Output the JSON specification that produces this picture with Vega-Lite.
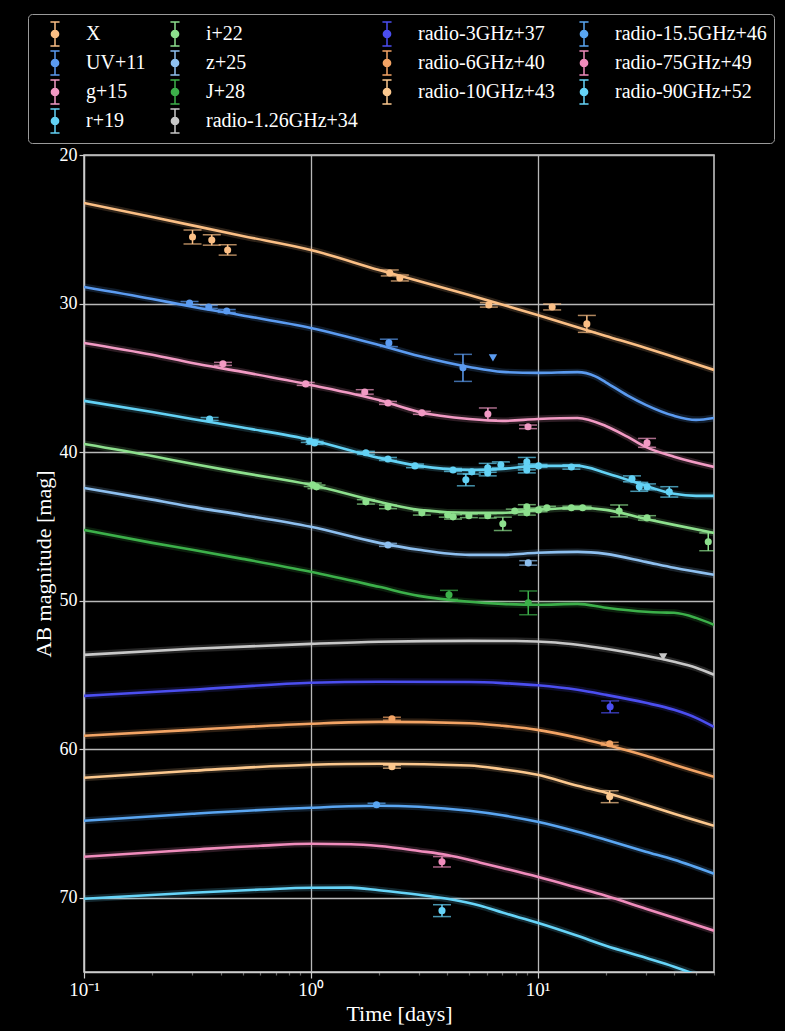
{
  "$schema": "https://vega.github.io/schema/vega-lite/v6.json",
  "width": 630,
  "height": 817,
  "autosize": {"type": "none"},
  "padding": {"left": 84, "top": 155, "right": 71, "bottom": 59},
  "background": "black",
  "config": {
    "font": "Liberation Serif",
    "view": {"stroke": "#cccccc", "strokeWidth": 1.5},
    "legend": {"labelFont": "Liberation Serif", "labelFontSize": 20, "labelColor": "white"},
    "axis": {
      "labelFont": "Liberation Serif", "titleFont": "Liberation Serif",
      "labelColor": "white", "titleColor": "white",
      "domainColor": "#cccccc", "tickColor": "#cccccc", "gridColor": "#b8b8b8",
      "gridWidth": 1.3, "domainWidth": 1.5, "tickWidth": 1.2,
      "titleFontWeight": "normal", "labelFontSize": 18, "titleFontSize": 22
    }
  },
  "datasets": {
    "curves": [
      {"s":"X","t":0.1,"m":23.23},{"s":"X","t":0.2,"m":24.17},{"s":"X","t":0.5,"m":25.45},{"s":"X","t":1,"m":26.39},{"s":"X","t":2,"m":27.74},{"s":"X","t":5,"m":29.42},{"s":"X","t":10,"m":30.77},{"s":"X","t":20,"m":32.18},{"s":"X","t":30,"m":32.99},{"s":"X","t":40,"m":33.6},{"s":"X","t":60,"m":34.47},
      {"s":"UV+11","t":0.1,"m":28.88},{"s":"UV+11","t":0.2,"m":29.69},{"s":"UV+11","t":0.3,"m":30.21},{"s":"UV+11","t":0.5,"m":30.8},{"s":"UV+11","t":1,"m":31.64},{"s":"UV+11","t":2,"m":32.79},{"s":"UV+11","t":3,"m":33.53},{"s":"UV+11","t":5,"m":34.27},{"s":"UV+11","t":7,"m":34.6},{"s":"UV+11","t":10,"m":34.67},{"s":"UV+11","t":15,"m":34.62},{"s":"UV+11","t":18,"m":34.9},{"s":"UV+11","t":20,"m":35.3},{"s":"UV+11","t":25,"m":36.2},{"s":"UV+11","t":30,"m":36.82},{"s":"UV+11","t":40,"m":37.56},{"s":"UV+11","t":50,"m":37.83},{"s":"UV+11","t":60,"m":37.7},
      {"s":"g+15","t":0.1,"m":32.65},{"s":"g+15","t":0.2,"m":33.45},{"s":"g+15","t":0.3,"m":34.0},{"s":"g+15","t":0.5,"m":34.6},{"s":"g+15","t":1,"m":35.48},{"s":"g+15","t":2,"m":36.5},{"s":"g+15","t":3,"m":37.3},{"s":"g+15","t":5,"m":37.77},{"s":"g+15","t":7,"m":37.9},{"s":"g+15","t":10,"m":37.77},{"s":"g+15","t":15,"m":37.7},{"s":"g+15","t":20,"m":38.24},{"s":"g+15","t":25,"m":38.98},{"s":"g+15","t":30,"m":39.65},{"s":"g+15","t":40,"m":40.32},{"s":"g+15","t":60,"m":41.0},
      {"s":"r+19","t":0.1,"m":36.55},{"s":"r+19","t":0.2,"m":37.3},{"s":"r+19","t":0.3,"m":37.77},{"s":"r+19","t":0.5,"m":38.35},{"s":"r+19","t":1,"m":39.18},{"s":"r+19","t":2,"m":40.39},{"s":"r+19","t":3,"m":40.93},{"s":"r+19","t":5,"m":41.2},{"s":"r+19","t":7,"m":41.13},{"s":"r+19","t":10,"m":40.93},{"s":"r+19","t":15,"m":40.93},{"s":"r+19","t":20,"m":41.4},{"s":"r+19","t":25,"m":41.87},{"s":"r+19","t":30,"m":42.27},{"s":"r+19","t":40,"m":42.81},{"s":"r+19","t":50,"m":42.95},{"s":"r+19","t":60,"m":42.95},
      {"s":"i+22","t":0.1,"m":39.45},{"s":"i+22","t":0.2,"m":40.26},{"s":"i+22","t":0.3,"m":40.79},{"s":"i+22","t":0.5,"m":41.4},{"s":"i+22","t":1,"m":42.2},{"s":"i+22","t":2,"m":43.35},{"s":"i+22","t":3,"m":43.89},{"s":"i+22","t":5,"m":44.09},{"s":"i+22","t":7,"m":44.09},{"s":"i+22","t":10,"m":43.89},{"s":"i+22","t":15,"m":43.75},{"s":"i+22","t":20,"m":43.89},{"s":"i+22","t":30,"m":44.5},{"s":"i+22","t":40,"m":44.9},{"s":"i+22","t":60,"m":45.44},
      {"s":"z+25","t":0.1,"m":42.41},{"s":"z+25","t":0.2,"m":43.2},{"s":"z+25","t":0.3,"m":43.69},{"s":"z+25","t":0.5,"m":44.23},{"s":"z+25","t":1,"m":45.03},{"s":"z+25","t":2,"m":46.11},{"s":"z+25","t":3,"m":46.58},{"s":"z+25","t":5,"m":46.92},{"s":"z+25","t":7,"m":46.92},{"s":"z+25","t":10,"m":46.78},{"s":"z+25","t":15,"m":46.72},{"s":"z+25","t":20,"m":46.85},{"s":"z+25","t":30,"m":47.39},{"s":"z+25","t":40,"m":47.79},{"s":"z+25","t":60,"m":48.26},
      {"s":"J+28","t":0.1,"m":45.24},{"s":"J+28","t":0.2,"m":46.11},{"s":"J+28","t":0.3,"m":46.58},{"s":"J+28","t":0.5,"m":47.19},{"s":"J+28","t":1,"m":48.06},{"s":"J+28","t":2,"m":49.07},{"s":"J+28","t":3,"m":49.68},{"s":"J+28","t":5,"m":50.08},{"s":"J+28","t":7,"m":50.22},{"s":"J+28","t":10,"m":50.28},{"s":"J+28","t":15,"m":50.22},{"s":"J+28","t":20,"m":50.48},{"s":"J+28","t":30,"m":50.75},{"s":"J+28","t":35,"m":50.8},{"s":"J+28","t":40,"m":50.82},{"s":"J+28","t":50,"m":51.16},{"s":"J+28","t":60,"m":51.63},
      {"s":"radio-1.26GHz+34","t":0.1,"m":53.65},{"s":"radio-1.26GHz+34","t":0.3,"m":53.24},{"s":"radio-1.26GHz+34","t":1,"m":52.91},{"s":"radio-1.26GHz+34","t":2,"m":52.77},{"s":"radio-1.26GHz+34","t":5,"m":52.71},{"s":"radio-1.26GHz+34","t":8,"m":52.72},{"s":"radio-1.26GHz+34","t":12,"m":52.82},{"s":"radio-1.26GHz+34","t":15,"m":52.97},{"s":"radio-1.26GHz+34","t":20,"m":53.24},{"s":"radio-1.26GHz+34","t":30,"m":53.71},{"s":"radio-1.26GHz+34","t":40,"m":54.12},{"s":"radio-1.26GHz+34","t":50,"m":54.52},{"s":"radio-1.26GHz+34","t":60,"m":54.99},
      {"s":"radio-3GHz+37","t":0.1,"m":56.41},{"s":"radio-3GHz+37","t":0.3,"m":56.0},{"s":"radio-3GHz+37","t":1,"m":55.53},{"s":"radio-3GHz+37","t":2,"m":55.46},{"s":"radio-3GHz+37","t":5,"m":55.48},{"s":"radio-3GHz+37","t":7,"m":55.55},{"s":"radio-3GHz+37","t":10,"m":55.7},{"s":"radio-3GHz+37","t":15,"m":56.0},{"s":"radio-3GHz+37","t":20,"m":56.34},{"s":"radio-3GHz+37","t":30,"m":56.88},{"s":"radio-3GHz+37","t":40,"m":57.35},{"s":"radio-3GHz+37","t":50,"m":57.89},{"s":"radio-3GHz+37","t":60,"m":58.5},
      {"s":"radio-6GHz+40","t":0.1,"m":59.1},{"s":"radio-6GHz+40","t":0.3,"m":58.7},{"s":"radio-6GHz+40","t":1,"m":58.29},{"s":"radio-6GHz+40","t":2,"m":58.16},{"s":"radio-6GHz+40","t":5,"m":58.25},{"s":"radio-6GHz+40","t":7,"m":58.42},{"s":"radio-6GHz+40","t":10,"m":58.7},{"s":"radio-6GHz+40","t":15,"m":59.23},{"s":"radio-6GHz+40","t":20,"m":59.7},{"s":"radio-6GHz+40","t":30,"m":60.44},{"s":"radio-6GHz+40","t":40,"m":61.05},{"s":"radio-6GHz+40","t":60,"m":61.86},
      {"s":"radio-10GHz+43","t":0.1,"m":61.92},{"s":"radio-10GHz+43","t":0.3,"m":61.45},{"s":"radio-10GHz+43","t":1,"m":61.05},{"s":"radio-10GHz+43","t":2,"m":60.98},{"s":"radio-10GHz+43","t":5,"m":61.1},{"s":"radio-10GHz+43","t":7,"m":61.35},{"s":"radio-10GHz+43","t":10,"m":61.72},{"s":"radio-10GHz+43","t":15,"m":62.46},{"s":"radio-10GHz+43","t":20,"m":62.93},{"s":"radio-10GHz+43","t":30,"m":63.74},{"s":"radio-10GHz+43","t":40,"m":64.35},{"s":"radio-10GHz+43","t":60,"m":65.16},
      {"s":"radio-15.5GHz+46","t":0.1,"m":64.82},{"s":"radio-15.5GHz+46","t":0.3,"m":64.35},{"s":"radio-15.5GHz+46","t":1,"m":63.94},{"s":"radio-15.5GHz+46","t":2,"m":63.81},{"s":"radio-15.5GHz+46","t":3,"m":63.88},{"s":"radio-15.5GHz+46","t":5,"m":64.15},{"s":"radio-15.5GHz+46","t":7,"m":64.45},{"s":"radio-15.5GHz+46","t":10,"m":64.89},{"s":"radio-15.5GHz+46","t":15,"m":65.56},{"s":"radio-15.5GHz+46","t":20,"m":66.1},{"s":"radio-15.5GHz+46","t":30,"m":66.9},{"s":"radio-15.5GHz+46","t":40,"m":67.44},{"s":"radio-15.5GHz+46","t":60,"m":68.38},
      {"s":"radio-75GHz+49","t":0.1,"m":67.24},{"s":"radio-75GHz+49","t":0.3,"m":66.77},{"s":"radio-75GHz+49","t":0.6,"m":66.5},{"s":"radio-75GHz+49","t":1,"m":66.37},{"s":"radio-75GHz+49","t":1.5,"m":66.4},{"s":"radio-75GHz+49","t":2,"m":66.52},{"s":"radio-75GHz+49","t":3,"m":66.85},{"s":"radio-75GHz+49","t":4,"m":67.12},{"s":"radio-75GHz+49","t":5.6,"m":67.64},{"s":"radio-75GHz+49","t":7,"m":68.0},{"s":"radio-75GHz+49","t":10,"m":68.59},{"s":"radio-75GHz+49","t":15,"m":69.33},{"s":"radio-75GHz+49","t":20,"m":69.87},{"s":"radio-75GHz+49","t":30,"m":70.74},{"s":"radio-75GHz+49","t":40,"m":71.35},{"s":"radio-75GHz+49","t":60,"m":72.22},
      {"s":"radio-90GHz+52","t":0.1,"m":70.07},{"s":"radio-90GHz+52","t":0.3,"m":69.66},{"s":"radio-90GHz+52","t":0.6,"m":69.45},{"s":"radio-90GHz+52","t":1,"m":69.33},{"s":"radio-90GHz+52","t":1.5,"m":69.32},{"s":"radio-90GHz+52","t":2,"m":69.5},{"s":"radio-90GHz+52","t":3,"m":69.8},{"s":"radio-90GHz+52","t":4,"m":70.07},{"s":"radio-90GHz+52","t":5.6,"m":70.54},{"s":"radio-90GHz+52","t":7,"m":71.0},{"s":"radio-90GHz+52","t":10,"m":71.68},{"s":"radio-90GHz+52","t":15,"m":72.56},{"s":"radio-90GHz+52","t":20,"m":73.23},{"s":"radio-90GHz+52","t":30,"m":74.04},{"s":"radio-90GHz+52","t":40,"m":74.64},{"s":"radio-90GHz+52","t":50,"m":75.18},{"s":"radio-90GHz+52","t":60,"m":75.7}
    ],
    "points": [
      {"s":"X","t":0.301,"m":25.52,"lo":25.05,"hi":25.99},{"s":"X","t":0.366,"m":25.72,"lo":25.37,"hi":26.07},{"s":"X","t":0.43,"m":26.39,"lo":26.04,"hi":26.74},{"s":"X","t":2.23,"m":27.94,"lo":27.74,"hi":28.14},{"s":"X","t":2.47,"m":28.28,"lo":28.08,"hi":28.48},{"s":"X","t":6.1,"m":30.09,"lo":29.94,"hi":30.24},{"s":"X","t":11.6,"m":30.23,"lo":30.03,"hi":30.43},{"s":"X","t":16.5,"m":31.37,"lo":30.8,"hi":31.94},
      {"s":"UV+11","t":0.292,"m":29.96,"lo":29.86,"hi":30.06},{"s":"UV+11","t":0.355,"m":30.23,"lo":30.13,"hi":30.33},{"s":"UV+11","t":0.426,"m":30.5,"lo":30.4,"hi":30.6},{"s":"UV+11","t":2.21,"m":32.65,"lo":32.4,"hi":32.9},{"s":"UV+11","t":4.69,"m":34.33,"lo":33.42,"hi":35.24},
      {"s":"g+15","t":0.41,"m":34.06,"lo":33.96,"hi":34.16},{"s":"g+15","t":0.95,"m":35.41,"lo":35.31,"hi":35.51},{"s":"g+15","t":1.73,"m":35.95,"lo":35.8,"hi":36.1},{"s":"g+15","t":2.19,"m":36.69,"lo":36.59,"hi":36.79},{"s":"g+15","t":3.09,"m":37.36,"lo":37.26,"hi":37.46},{"s":"g+15","t":6.04,"m":37.43,"lo":37.03,"hi":37.83},{"s":"g+15","t":9.08,"m":38.3,"lo":38.18,"hi":38.42},{"s":"g+15","t":30.4,"m":39.38,"lo":39.08,"hi":39.68},
      {"s":"r+19","t":0.358,"m":37.77,"lo":37.67,"hi":37.87},{"s":"r+19","t":0.99,"m":39.25,"lo":39.15,"hi":39.35},{"s":"r+19","t":1.04,"m":39.38,"lo":39.28,"hi":39.48},{"s":"r+19","t":1.75,"m":40.05,"lo":39.95,"hi":40.15},{"s":"r+19","t":2.19,"m":40.46,"lo":40.36,"hi":40.56},{"s":"r+19","t":2.88,"m":40.93,"lo":40.81,"hi":41.05},{"s":"r+19","t":4.24,"m":41.2,"lo":41.1,"hi":41.3},{"s":"r+19","t":4.83,"m":41.87,"lo":41.47,"hi":42.27},{"s":"r+19","t":5.13,"m":41.33,"lo":41.18,"hi":41.48},{"s":"r+19","t":6.03,"m":41.06,"lo":40.76,"hi":41.36},{"s":"r+19","t":6.03,"m":41.4,"lo":41.2,"hi":41.6},{"s":"r+19","t":6.89,"m":40.86,"lo":40.66,"hi":41.06},{"s":"r+19","t":8.97,"m":40.66,"lo":40.36,"hi":40.96},{"s":"r+19","t":8.97,"m":41.0,"lo":40.8,"hi":41.2},{"s":"r+19","t":8.97,"m":41.2,"lo":41.0,"hi":41.4},{"s":"r+19","t":10.1,"m":40.93,"lo":40.83,"hi":41.03},{"s":"r+19","t":14.1,"m":41.0,"lo":40.85,"hi":41.15},{"s":"r+19","t":26.1,"m":41.8,"lo":41.6,"hi":42.0},{"s":"r+19","t":28.1,"m":42.34,"lo":42.04,"hi":42.64},{"s":"r+19","t":30.4,"m":42.34,"lo":42.14,"hi":42.54},{"s":"r+19","t":38.1,"m":42.68,"lo":42.33,"hi":43.03},
      {"s":"i+22","t":1.02,"m":42.2,"lo":42.08,"hi":42.32},{"s":"i+22","t":1.06,"m":42.34,"lo":42.22,"hi":42.46},{"s":"i+22","t":1.75,"m":43.35,"lo":43.2,"hi":43.5},{"s":"i+22","t":2.19,"m":43.69,"lo":43.57,"hi":43.81},{"s":"i+22","t":3.09,"m":44.09,"lo":43.94,"hi":44.24},{"s":"i+22","t":4.02,"m":44.23,"lo":44.08,"hi":44.38},{"s":"i+22","t":4.24,"m":44.36,"lo":44.21,"hi":44.51},{"s":"i+22","t":4.98,"m":44.29,"lo":44.17,"hi":44.41},{"s":"i+22","t":6.03,"m":44.29,"lo":44.14,"hi":44.44},{"s":"i+22","t":7.03,"m":44.83,"lo":44.38,"hi":45.28},{"s":"i+22","t":7.94,"m":43.96,"lo":43.84,"hi":44.08},{"s":"i+22","t":8.97,"m":43.69,"lo":43.54,"hi":43.84},{"s":"i+22","t":8.97,"m":44.09,"lo":43.94,"hi":44.24},{"s":"i+22","t":10.1,"m":43.89,"lo":43.77,"hi":44.01},{"s":"i+22","t":11.0,"m":43.75,"lo":43.65,"hi":43.85},{"s":"i+22","t":14.1,"m":43.75,"lo":43.65,"hi":43.85},{"s":"i+22","t":15.8,"m":43.75,"lo":43.65,"hi":43.85},{"s":"i+22","t":22.9,"m":43.96,"lo":43.56,"hi":44.36},{"s":"i+22","t":30.4,"m":44.43,"lo":44.28,"hi":44.58},{"s":"i+22","t":56.6,"m":46.04,"lo":45.44,"hi":46.64},
      {"s":"z+25","t":2.19,"m":46.25,"lo":46.15,"hi":46.35},{"s":"z+25","t":9.1,"m":47.46,"lo":47.31,"hi":47.61},
      {"s":"J+28","t":4.07,"m":49.61,"lo":49.31,"hi":49.91},{"s":"J+28","t":9.1,"m":50.15,"lo":49.35,"hi":50.95},
      {"s":"radio-3GHz+37","t":20.9,"m":57.15,"lo":56.75,"hi":57.55},
      {"s":"radio-6GHz+40","t":2.28,"m":57.95,"lo":57.85,"hi":58.05},{"s":"radio-6GHz+40","t":20.8,"m":59.64,"lo":59.54,"hi":59.74},
      {"s":"radio-10GHz+43","t":2.28,"m":61.18,"lo":61.08,"hi":61.28},{"s":"radio-10GHz+43","t":20.8,"m":63.2,"lo":62.8,"hi":63.6},
      {"s":"radio-15.5GHz+46","t":1.95,"m":63.74,"lo":63.64,"hi":63.84},
      {"s":"radio-75GHz+49","t":3.79,"m":67.58,"lo":67.23,"hi":67.93},
      {"s":"radio-90GHz+52","t":3.79,"m":70.87,"lo":70.47,"hi":71.27}
    ],
    "limits": [
      {"s":"UV+11","t":6.36,"m":33.66},
      {"s":"radio-1.26GHz+34","t":35.8,"m":53.78}
    ]
  },
  "encoding": {
    "x": {
      "field": "t", "type": "quantitative",
      "scale": {"type": "log", "domain": [0.1, 60], "nice": false},
      "axis": {
        "title": "Time [days]",
        "values": [0.1,0.2,0.3,0.4,0.5,0.6,0.7,0.8,0.9,1,2,3,4,5,6,7,8,9,10,20,30,40,50,60],
        "labelExpr": "datum.value == 0.1 ? '10⁻¹' : datum.value == 1 ? '10⁰' : datum.value == 10 ? '10¹' : ''",
        "grid": true,
        "gridOpacity": {"condition": {"test": "datum.value == 1 || datum.value == 10", "value": 1}, "value": 0},
        "tickSize": {"condition": {"test": "datum.value == 0.1 || datum.value == 1 || datum.value == 10", "value": 6}, "value": 3},
        "tickOpacity": {"condition": {"test": "datum.value == 0.1 || datum.value == 1 || datum.value == 10", "value": 1}, "value": 0.5},
        "labelPadding": 2,
        "labelFontSize": 19,
        "titlePadding": 4,
        "labelFlush": false,
        "labelOverlap": false
      }
    },
    "y": {
      "field": "m", "type": "quantitative",
      "scale": {"domain": [20, 75], "reverse": true, "nice": false, "zero": false},
      "axis": {
        "title": "AB magnitude [mag]",
        "values": [20,30,40,50,60,70],
        "grid": true,
        "tickSize": 5,
        "labelPadding": 2,
        "titlePadding": 4,
        "labelFlush": false,
        "labelOverlap": false
      }
    },
    "color": {
      "field": "s", "type": "nominal",
      "scale": {
        "domain": ["X","i+22","radio-3GHz+37","radio-15.5GHz+46","UV+11","z+25","radio-6GHz+40","radio-75GHz+49","g+15","J+28","radio-10GHz+43","radio-90GHz+52","r+19","radio-1.26GHz+34"],
        "range": ["#fbbf85","#8de08d","#4b4ef0","#5aa6f2","#5b9bf0","#8ec0f0","#f3a465","#f08cbc","#f29ac4","#3cb04a","#fcc88e","#66d4f8","#63d2f5","#c8c8c8"]
      },
      "legend": {
        "orient": "none", "legendX": -56, "legendY": -141,
        "direction": "horizontal", "columns": 4,
        "title": null,
        "symbolType": "M-0.38,-1H0.38M0,-1V1M-0.38,1H0.38M0.3,0A0.3,0.3,0,1,1,-0.3,0A0.3,0.3,0,1,1,0.3,0Z",
        "symbolSize": 576, "symbolStrokeWidth": 1.5, "symbolOffset": 7,
        "labelFont": "Liberation Serif", "labelFontSize": 20, "labelColor": "white",
        "labelOffset": 18, "rowPadding": -1, "columnPadding": 9,
        "padding": 7, "strokeColor": "#9a9a9a", "cornerRadius": 4, "fillColor": "black",
        "labelLimit": 300,
        "encode": {"symbols": {"update": {
          "fill": {"scale": "color", "field": "value"},
          "stroke": {"scale": "color", "field": "value"},
          "fillOpacity": {"value": 1}, "opacity": {"value": 1}, "strokeOpacity": {"value": 1}
        }}}
      }
    }
  },
  "layer": [
    {"data": {"name": "curves"}, "mark": {"type": "line", "strokeWidth": 7, "opacity": 0.18, "interpolate": "monotone", "clip": true}, "encoding": {"detail": {"field": "s"}}},
    {"data": {"name": "curves"}, "mark": {"type": "line", "strokeWidth": 2.6, "interpolate": "monotone", "clip": true}, "encoding": {"detail": {"field": "s"}}},
    {"data": {"name": "points"}, "mark": {"type": "rule", "strokeWidth": 1.5, "clip": true}, "encoding": {"y": {"field": "lo", "type": "quantitative"}, "y2": {"field": "hi"}}},
    {"data": {"name": "points"}, "mark": {"type": "tick", "orient": "horizontal", "size": 18, "thickness": 1.5, "clip": true}, "encoding": {"y": {"field": "lo", "type": "quantitative"}}},
    {"data": {"name": "points"}, "mark": {"type": "tick", "orient": "horizontal", "size": 18, "thickness": 1.5, "clip": true}, "encoding": {"y": {"field": "hi", "type": "quantitative"}}},
    {"data": {"name": "points"}, "mark": {"type": "point", "filled": true, "size": 50, "opacity": 1, "clip": true}},
    {"data": {"name": "limits"}, "mark": {"type": "point", "shape": "triangle-down", "filled": true, "size": 70, "opacity": 1, "clip": true}}
  ]
}
